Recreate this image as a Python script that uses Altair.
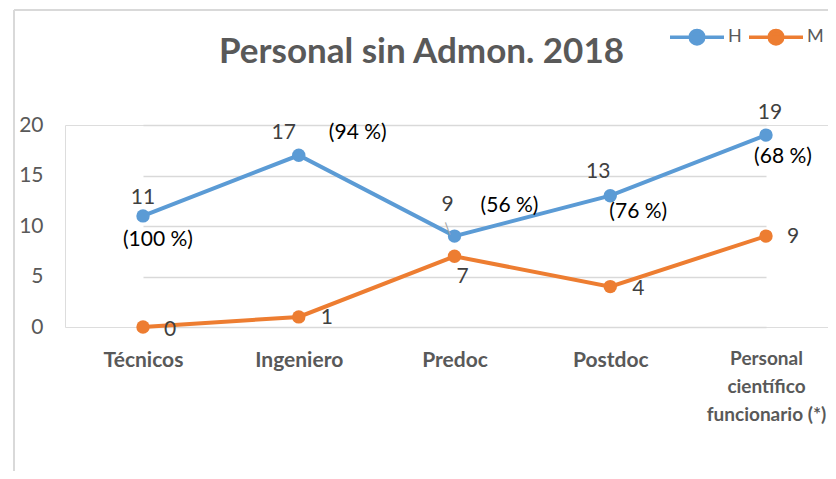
import altair as alt
import pandas as pd

categorias = ["Técnicos", "Ingeniero", "Predoc", "Postdoc", "Personal científico funcionario (*)"]
hombres = [11, 17, 9, 13, 19]
mujeres = [0, 1, 7, 4, 9]
porcentaje_h = [100, 94, 56, 76, 68]
series = ["H", "M"]
colores = ["#5B9BD5", "#ED7D31"]

rows = []
for i, c in enumerate(categorias):
    rows.append({"cat": c, "serie": "H", "valor": hombres[i], "pct": f"({porcentaje_h[i]} %)"})
    rows.append({"cat": c, "serie": "M", "valor": mujeres[i], "pct": ""})
df = pd.DataFrame(rows)

FONT = "Lato"
GRAY = "#595959"

sym_path = "M-1,0H1M-0.25,0A0.25,0.25,0,1,1,0.25,0A0.25,0.25,0,1,1,-0.25,0Z"
legend = alt.Legend(
    title=None, orient="none", direction="horizontal", legendX=603, legendY=-117,
    padding=0, labelFont=FONT, labelFontSize=18, labelColor=GRAY, labelOffset=2,
    columnPadding=0, symbolType=sym_path, symbolSize=2916, symbolStrokeWidth=3.5,
    symbolOpacity=1,
)

last_label = categorias[-1]
x_enc = alt.X("cat:N", sort=categorias, title=None,
              scale=alt.Scale(type="point", range=[78, 701], padding=0),
              axis=alt.Axis(domain=False, ticks=False, grid=False, labelAngle=0,
                            labelFont=FONT,
                            labelFontSize={"condition": {"test": f"datum.value == '{last_label}'", "value": 19}, "value": 21},
                            labelFontWeight="bold",
                            labelColor=GRAY, labelPadding=22, labelBaseline="top",
                            labelLineHeight=28, labelLimit=300,
                            labelExpr=f"datum.label == '{last_label}' ? ['Personal', 'científico', 'funcionario (*)'] : datum.label"))
y_enc = alt.Y("valor:Q", title=None, scale=alt.Scale(domain=[0, 20]),
              axis=alt.Axis(values=[0, 5, 10, 15, 20], grid=True, gridColor="#d9d9d9",
                            gridWidth=1.3, domain=False, ticks=False, labelPadding=22,
                            labelFont=FONT, labelFontSize=21, labelColor=GRAY))
color_enc = alt.Color("serie:N", scale=alt.Scale(domain=series, range=colores), legend=legend)

base = alt.Chart(df)

frame = [
    base.mark_rule(color="#d9d9d9", strokeWidth=1.5).encode(
        x=alt.value(-51), y=alt.value(-115), y2=alt.value(360)),
    base.mark_rule(color="#d9d9d9", strokeWidth=1.5).encode(
        x=alt.value(-51), x2=alt.value(780), y=alt.value(-115)),
]

lines = base.mark_line(strokeWidth=4).encode(x=x_enc, y=y_enc, color=color_enc, detail="serie:N")
points = base.mark_circle(size=180, opacity=1).encode(x=x_enc, y=y_enc, color=color_enc)

# label offsets (pixels) per series/category: (dx, dy) for value, and for percentage
off_val_h = [(0, -18), (-15, -22), (-7, -31), (-12, -24), (4, -22)]
off_pct_h = [(15, 24), (59, -22), (55, -30), (28, 16), (17, 22)]
off_val_m = [(27, 3), (28, 1), (8, 21), (28, 2), (27, 1)]

texts = []
for i, c in enumerate(categorias):
    fh = (alt.datum.serie == "H") & (alt.datum.cat == c)
    fm = (alt.datum.serie == "M") & (alt.datum.cat == c)
    texts.append(base.transform_filter(fh).mark_text(
        dx=off_val_h[i][0], dy=off_val_h[i][1], font=FONT, fontSize=21, color="#404040",
        baseline="middle", align="center").encode(x=x_enc, y=y_enc, text="valor:Q"))
    texts.append(base.transform_filter(fh).mark_text(
        dx=off_pct_h[i][0], dy=off_pct_h[i][1], font=FONT, fontSize=21, color="#000000",
        baseline="middle", align="center").encode(x=x_enc, y=y_enc, text="pct:N"))
    texts.append(base.transform_filter(fm).mark_text(
        dx=off_val_m[i][0], dy=off_val_m[i][1], font=FONT, fontSize=21, color="#404040",
        baseline="middle", align="center").encode(x=x_enc, y=y_enc, text="valor:Q"))

# small leader line for the Predoc "9" label
leader = base.transform_filter((alt.datum.serie == "H") & (alt.datum.cat == "Predoc")).mark_text(
    dx=-4, dy=-10, font="DejaVu Sans", fontSize=13, color="#a6a6a6", angle=340,
    baseline="middle", align="center").encode(x=x_enc, y=y_enc, text=alt.value("|"))

chart = alt.layer(*frame, lines, points, *texts, leader).properties(
    width=763, height=202,
    autosize=alt.AutoSizeParams(type="none"),
    padding={"left": 57, "top": 117, "right": 0, "bottom": 144},
    title=alt.TitleParams("Personal sin Admon. 2018", font=FONT, fontSize=35,
                          fontWeight="bold", color=GRAY, anchor="middle", dx=-25,
                          baseline="middle", offset=-79),
).configure_view(stroke=None).configure(background="white")

chart.save("out.html", embed_options={"renderer": "svg", "actions": False})
